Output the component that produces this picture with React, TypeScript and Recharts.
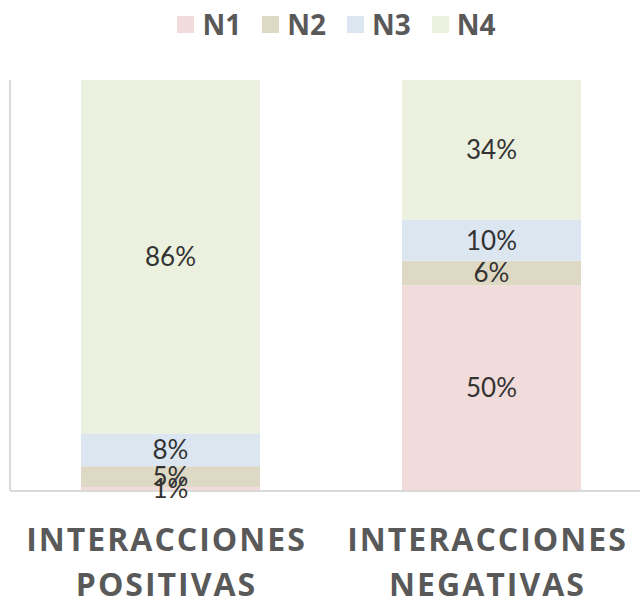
import React from 'react';
import { BarChart, Bar, XAxis, YAxis, CartesianGrid, LabelList } from 'recharts';

const categories = ['INTERACCIONES POSITIVAS', 'INTERACCIONES NEGATIVAS'];
const n1 = [1, 50];
const n2 = [5, 6];
const n3 = [8, 10];
const n4 = [86, 34];

const seriesKeys = ['N1', 'N2', 'N3', 'N4'];
const seriesColors = ['#f2dcdb', '#ddd9c4', '#dce6f1', '#ebf1de'];

const chartData = categories.map((name, i) => ({
  name,
  idx: i,
  N1: n1[i],
  N2: n2[i],
  N3: n3[i],
  N4: n4[i],
}));

const AXIS_GRAY = '#d9d9d9';

// two-line category label, like the excel original
const CategoryTick = ({ x, y, payload }: any) => {
  const words = String(payload.value).split(' ');
  return (
    <text
      x={x}
      y={y}
      textAnchor="middle"
      fill="#595959"
      fontFamily="'Open Sans', sans-serif"
      fontWeight={700}
      fontSize={32}
      letterSpacing={2}
    >
      {words.map((w, i) => (
        <tspan key={i} x={x - 4} dy={i === 0 ? 52 : 45}>
          {w}
        </tspan>
      ))}
    </text>
  );
};

const LegendRow = () => (
  <div
    style={{
      position: 'absolute',
      top: 8,
      left: 0,
      width: 640,
      display: 'flex',
      justifyContent: 'center',
      gap: 21,
      paddingLeft: 33,
      boxSizing: 'border-box',
      fontFamily: "'Open Sans', sans-serif",
      fontWeight: 700,
      fontSize: 28,
      color: '#595959',
      lineHeight: '32px',
    }}
  >
    {seriesKeys.map((k, i) => (
      <div key={k} style={{ display: 'flex', alignItems: 'center' }}>
        <span
          style={{
            display: 'inline-block',
            width: 17,
            height: 17,
            background: seriesColors[i],
            marginRight: 8,
          }}
        />
        <span>{k}</span>
      </div>
    ))}
  </div>
);

const App = () => {
  return (
    <div
      style={{
        position: 'absolute',
        left: 0,
        top: 0,
        width: 640,
        height: 601,
        overflow: 'hidden',
        background: '#fff',
      }}
    >
      <LegendRow />
      <BarChart
        width={660}
        height={601}
        data={chartData}
        margin={{ top: 80, right: 8, left: 10, bottom: 0 }}
        barCategoryGap={71}
      >
        <CartesianGrid
          xAxisId="grid"
          vertical
          horizontal={false}
          stroke={AXIS_GRAY}
          strokeWidth={2}
        />
        <XAxis
          xAxisId="grid"
          dataKey="idx"
          type="number"
          domain={[0, 2]}
          ticks={[0, 1, 2]}
          height={0}
          tick={false}
          axisLine={false}
          tickLine={{ stroke: AXIS_GRAY, strokeWidth: 2 }}
          tickSize={12}
        />
        <XAxis
          xAxisId="cat"
          dataKey="name"
          height={110}
          interval={0}
          axisLine={{ stroke: AXIS_GRAY, strokeWidth: 2 }}
          tickLine={false}
          tick={<CategoryTick />}
        />
        <YAxis
          domain={[0, 100]}
          width={0}
          tick={false}
          tickLine={false}
          axisLine={{ stroke: AXIS_GRAY, strokeWidth: 3 }}
        />
        {seriesKeys.map((k, i) => (
          <Bar
            key={k}
            xAxisId="cat"
            dataKey={k}
            stackId="a"
            fill={seriesColors[i]}
            isAnimationActive={false}
          >
            <LabelList
              dataKey={k}
              position="center"
              formatter={(v: any) => `${v}%`}
              fill="#333333"
              fontFamily="Lato, sans-serif"
              fontSize={26}
            />
          </Bar>
        ))}
      </BarChart>
    </div>
  );
};

export default App;
